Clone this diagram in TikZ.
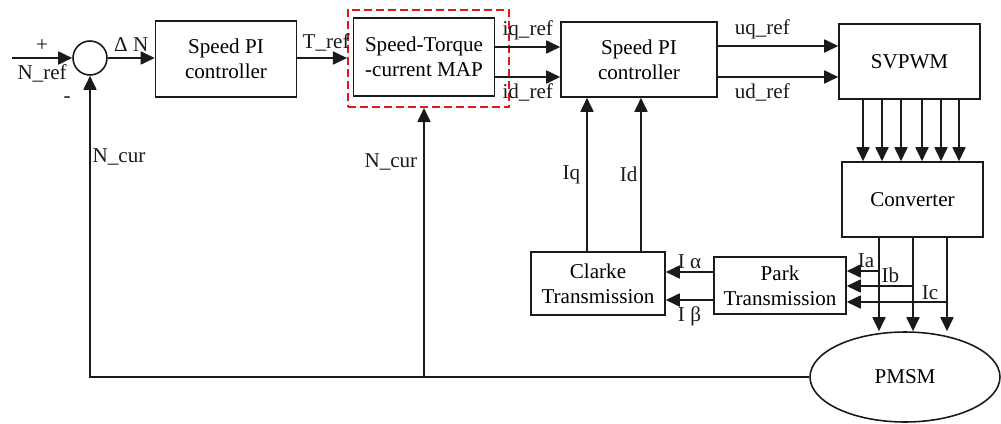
\documentclass[tikz,border=0pt]{standalone}
\usepackage{fontspec}
\setmainfont{Liberation Serif}
\usepackage{tikz}
\usetikzlibrary{arrows.meta, positioning, shapes.geometric}
\definecolor{mapred}{RGB}{230,20,20}
\definecolor{lineblack}{RGB}{26,26,26}

\begin{document}
\begin{tikzpicture}[
    x=0.02cm, y=-0.02cm,
    font=\fontsize{12}{14}\selectfont,
    block/.style={draw=lineblack, line width=0.9pt, inner sep=0pt, align=center},
    sig/.style={-{Triangle[length=0.28cm, width=0.26cm]}, line width=1pt, lineblack},
]
    \useasboundingbox (0,0) rectangle (1001,423);

    % blocks
    \node[draw=lineblack, line width=0.9pt, circle, minimum size=0.68cm, inner sep=0pt] (sum) at (90,58) {};
    \node[block, minimum width=2.82cm, minimum height=1.52cm] (pi1) at (226,59) {Speed PI\\controller};
    \node[block, minimum width=2.82cm, minimum height=1.56cm] (map) at (424,57) {Speed-Torque\\-current MAP};
    \node[draw=mapred, dash pattern=on 0.16cm off 0.08cm, line width=0.9pt, minimum width=3.23cm, minimum height=1.95cm, inner sep=0pt] (mapframe) at (428.5,58.5) {};
    \node[block, minimum width=3.12cm, minimum height=1.5cm] (pi2) at (639,59.5) {Speed PI\\controller};
    \node[block, minimum width=2.82cm, minimum height=1.5cm] (svpwm) at (909.5,61.5) {SVPWM};
    \node[block, minimum width=2.82cm, minimum height=1.5cm] (conv) at (912.5,199.5) {Converter};
    \node[block, minimum width=2.64cm, minimum height=1.14cm] (park) at (780,285.5) {Park\\Transmission};
    \node[block, minimum width=2.68cm, minimum height=1.26cm] (clarke) at (598,283.5) {Clarke\\Transmission};
    \node[draw=lineblack, line width=0.9pt, ellipse, minimum width=3.8cm, minimum height=1.8cm, inner sep=0pt] (pmsm) at (905,377) {PMSM};

    % speed loop
    \coordinate (nin) at (12,58);
    \draw[sig] (nin) -- node[above] {+} node[below] {N\_ref} (sum.west);
    \draw[sig] (sum.east) -- node[above] {Δ N} (pi1.west |- sum.east);
    \draw[sig] (pi1.east |- sum.east) -- node[above, pos=0.58] {T\_ref} (mapframe.west |- sum.east);
    \draw[sig] (map.east |- 0,47) -- node[above] {iq\_ref} (pi2.west |- 0,47);
    \draw[sig] (map.east |- 0,77) -- node[below] {id\_ref} (pi2.west |- 0,77);
    \draw[sig] (pi2.east |- 0,46) -- node[above, pos=0.37] {uq\_ref} (svpwm.west |- 0,46);
    \draw[sig] (pi2.east |- 0,77) -- node[below, pos=0.37] {ud\_ref} (svpwm.west |- 0,77);

    % gate signals and phases
    \foreach \gx in {863,882,901,922,941,959}
        \draw[sig] (svpwm.south -| \gx,0) -- (conv.north -| \gx,0);
    \foreach \px in {879,913,947}
        \draw[sig] (conv.south -| \px,0) -- (pmsm.north -| \px,0);

    % current feedback
    \coordinate (ta) at (879,271);
    \coordinate (tb) at (913,286);
    \coordinate (tc) at (947,302);
    \draw[sig] (ta) -- node[above, pos=0.4, inner sep=1.5pt] {Ia} (park.east |- ta);
    \draw[sig] (tb) -- node[above, pos=0.34, inner sep=1.5pt] {Ib} (park.east |- tb);
    \draw[sig] (tc) -- node[above, pos=0.17, inner sep=1pt] {Ic} (park.east |- tc);
    \draw[sig] (park.west |- 0,272) -- node[above, inner sep=1.5pt] {I α} (clarke.east |- 0,272);
    \draw[sig] (park.west |- 0,300) -- node[below] {I β} (clarke.east |- 0,300);
    \draw[sig] (clarke.north -| 587,0) -- node[left] {Iq} (pi2.south -| 587,0);
    \draw[sig] (clarke.north -| 641,0) -- node[left, inner sep=1.5pt] {Id} (pi2.south -| 641,0);

    % speed feedback
    \draw[sig] (pmsm.west) -| node[right, pos=0.866, inner sep=1pt] {N\_cur}
        node[left=0.25cm, pos=0.96] {-} (sum.south);
    \draw[sig] (map.south |- pmsm.west) -- node[left, pos=0.8] {N\_cur} (map.south |- mapframe.south);
\end{tikzpicture}
\end{document}
